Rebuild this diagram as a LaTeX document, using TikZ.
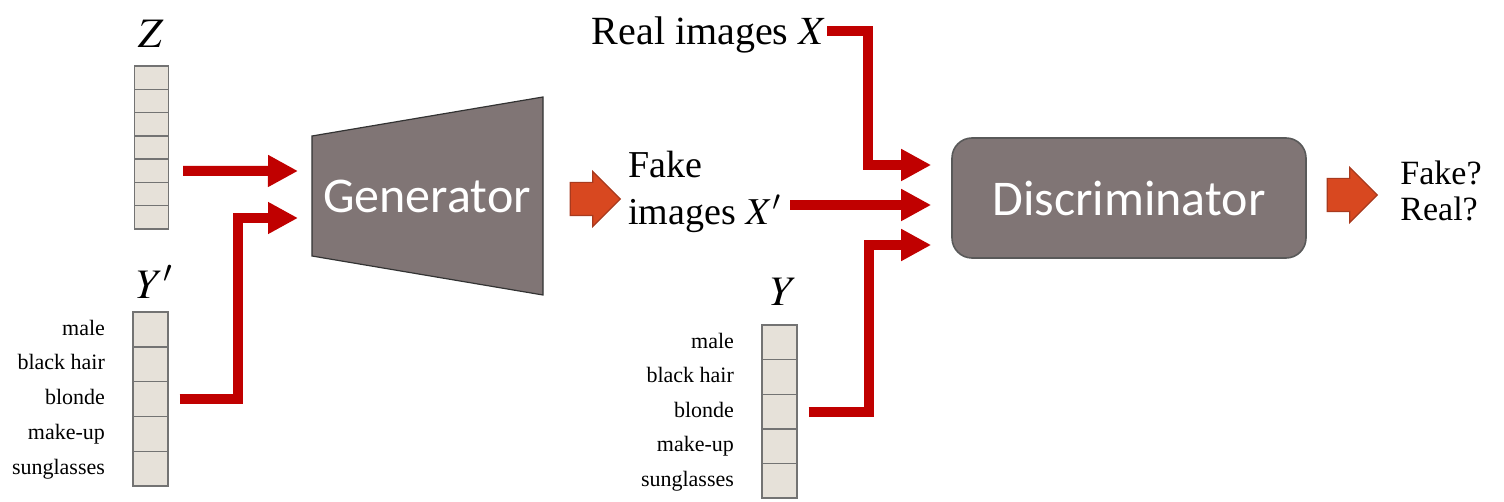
\documentclass[tikz,border=0pt]{standalone}
\usepackage{mathptmx}
\usepackage[no-math]{fontspec}
\setmainfont{Liberation Serif}
\newfontfamily\calibri{Carlito}
\definecolor{arrowred}{RGB}{192, 0, 0}
\definecolor{blockorange}{RGB}{216, 72, 32}
\definecolor{blockedge}{RGB}{168, 58, 30}
\definecolor{netgrey}{RGB}{128, 117, 117}
\definecolor{celltan}{RGB}{230, 225, 217}
\usetikzlibrary{shapes, arrows.meta, positioning, calc}

\begin{document}
\begin{tikzpicture}[x=0.5pt, y=-0.5pt,
  cell/.style={draw=gray!90!black, fill=celltan, line width=0.7pt, minimum width=17pt, inner sep=0pt},
  attr/.style={font=\fontsize{11}{13}\selectfont, inner sep=0pt, text height=1.5ex, text depth=0.25ex},
  varname/.style={font=\fontsize{21}{24}\selectfont, inner sep=0pt},
  feed/.style={draw=arrowred, line width=5pt, -{Triangle[length=15pt, width=15pt]}},
  bigarrow/.style={single arrow, fill=blockorange, draw=blockedge, line width=0.6pt, minimum height=25pt, inner xsep=0pt, inner ysep=8pt, single arrow head extend=5.5pt},
  netbox/.style={fill=netgrey, text=white, font=\calibri\fontsize{25}{30}\selectfont}
]
  \useasboundingbox (0,0) rectangle (1504,502);

  % Noise vector Z
  \node[varname] (zname) at (151,34) {$Z$};
  \foreach \i in {0,...,6}
    \node[cell, minimum height=11.65pt] (z\i) at (151.5, {77.65+23.3*\i}) {};

  % Fake labels Y'
  \node[varname] (ypname) at (155,282) {$Y'$};
  \foreach \lab [count=\i from 0] in {male, black hair, blonde, make-up, sunglasses} {
    \node[cell, minimum width=17.5pt, minimum height=17.4pt] (yp\i) at (150.5, {329.4+34.8*\i}) {};
    \node[attr, left=13.5pt of yp\i.west] (ypattr\i) {\lab};
  }

  % Generator
  \filldraw[fill=netgrey, draw=black!80, line width=0.6pt] (312,136) -- (543,97) -- (543,295) -- (312,256) -- cycle;
  \node[netbox, fill=none] (gen) at (427,196) {Generator};
  \coordinate (genin1) at (298,171);
  \coordinate (genin2) at (298,218);
  \draw[feed] ([xshift=7pt]z4.east) -- (genin1);
  \draw[feed] ([xshift=5.5pt]yp2.east) -- ++(58,0) |- (genin2);

  \node[bigarrow] (genout) at (587,199) {};
  \node[font=\fontsize{19}{23.5}\selectfont, align=left, inner sep=0pt, anchor=west] (fakex) at (628,191.5) {Fake\\images $X'$};
  \node[font=\fontsize{20}{24}\selectfont, inner sep=0pt, text depth=0pt, anchor=east] (realx) at (827,31) {Real images $X$};

  % Real labels Y
  \node[varname] (yname) at (784,292) {$Y$};
  \foreach \lab [count=\i from 0] in {male, black hair, blonde, make-up, sunglasses} {
    \node[cell, minimum width=17.5pt, minimum height=17.3pt] (y\i) at (779.5, {342.3+34.6*\i}) {};
    \node[attr, left=13.5pt of y\i.west] (yattr\i) {\lab};
  }

  % Discriminator
  \node[netbox, draw=gray!70!black, line width=0.8pt, rounded corners=10pt, minimum width=177pt, minimum height=60pt] (disc) at (1129,198) {Discriminator};
  \coordinate (din1) at ([xshift=-10pt, yshift=16.5pt]disc.west);
  \coordinate (din2) at ([xshift=-10pt, yshift=-3.5pt]disc.west);
  \coordinate (din3) at ([xshift=-10pt, yshift=-23.5pt]disc.west);
  \coordinate (xpout) at ([xshift=4.5pt]fakex.east);
  \draw[feed] (realx.east) -- ++(41,0) |- (din1);
  \draw[feed] (xpout |- din2) -- (din2);
  \draw[feed] ([xshift=5.5pt]y2.east) -- ++(60,0) |- (din3);

  \node[bigarrow] (discout) at (1344,195) {};
  \node[font=\fontsize{17}{18}\selectfont, align=left, inner sep=0pt, anchor=west] (verdict) at (1400,191) {Fake?\\Real?};
\end{tikzpicture}
\end{document}
